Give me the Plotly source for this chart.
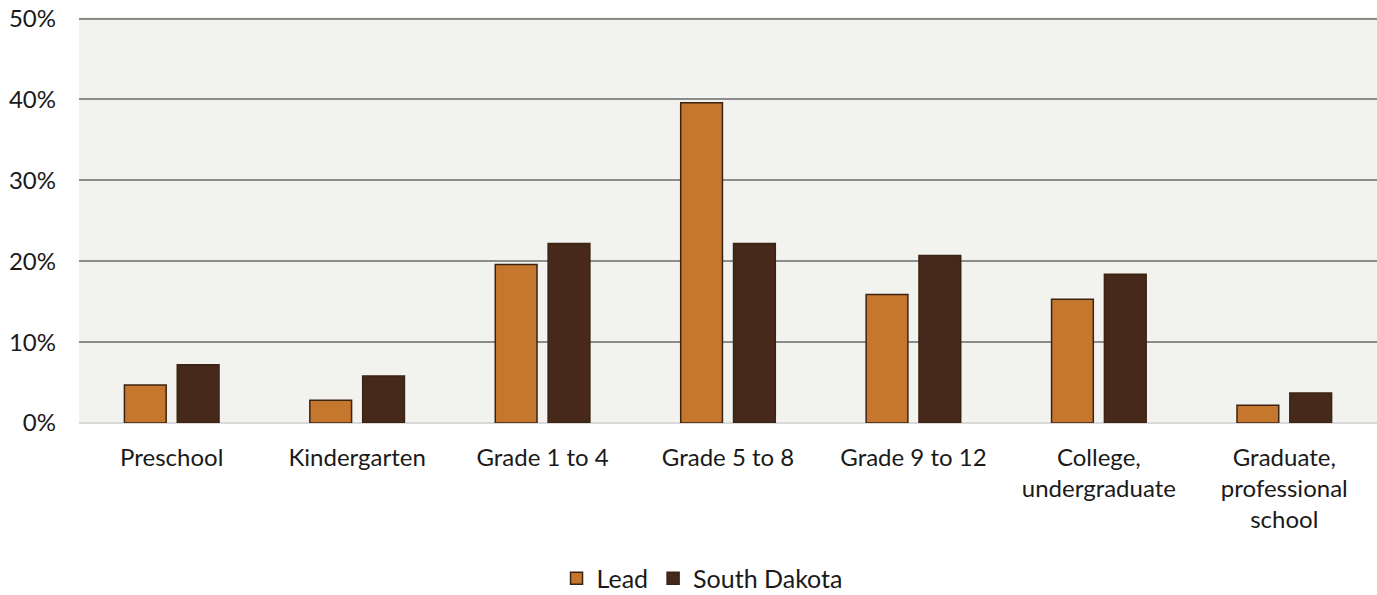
import plotly.graph_objects as go

categories = ["Preschool", "Kindergarten", "Grade 1 to 4", "Grade 5 to 8",
              "Grade 9 to 12", "College,<br>undergraduate", "Graduate,<br>professional<br>school"]
lead = [4.7, 2.8, 19.6, 39.6, 15.9, 15.3, 2.2]
south_dakota = [7.2, 5.8, 22.2, 22.2, 20.7, 18.4, 3.7]
y_ticks = [0, 10, 20, 30, 40, 50]
y_tick_labels = ["0%", "10%", "20%", "30%", "40%", "50%"]

font_family = "Lato, 'Open Sans', sans-serif"

fig = go.Figure()
fig.add_trace(go.Bar(name="Lead", x=categories, y=lead,
                     marker=dict(color="#C4772D", line=dict(color="#3B2314", width=1.5))))
fig.add_trace(go.Bar(name="South Dakota", x=categories, y=south_dakota,
                     marker=dict(color="#46291A", line=dict(color="#3B2314", width=1.5))))

fig.update_layout(
    width=1377, height=595,
    margin=dict(l=79, r=0, t=17, b=172, autoexpand=False),
    paper_bgcolor="white",
    plot_bgcolor="#F2F3EF",
    barmode="group",
    bargap=0.43,
    bargroupgap=0.21,
    font=dict(family=font_family, size=24, color="#1a1a1a"),
    legend=dict(orientation="h", x=0.48, xanchor="center", y=-0.383, yanchor="middle",
                font=dict(size=25), itemwidth=30, traceorder="normal"),
    showlegend=True,
)
fig.update_xaxes(tickfont=dict(size=24), showgrid=False, ticks="", showline=False,
                 ticklabelstandoff=18, automargin=False)
fig.update_yaxes(range=[0, 50.2], tickvals=y_ticks, ticktext=y_tick_labels,
                 showgrid=True, gridcolor="#8C8C8C", gridwidth=1.5,
                 zeroline=True, zerolinecolor="#D9D9D9", zerolinewidth=2,
                 ticklabelstandoff=22, tickfont=dict(size=24), showline=False,
                 ticklabeloverflow="allow", automargin=False)

fig.write_html("out.html",
               config={"displayModeBar": False},
               post_script="document.body.style.margin='0';document.body.style.overflow='hidden';")
